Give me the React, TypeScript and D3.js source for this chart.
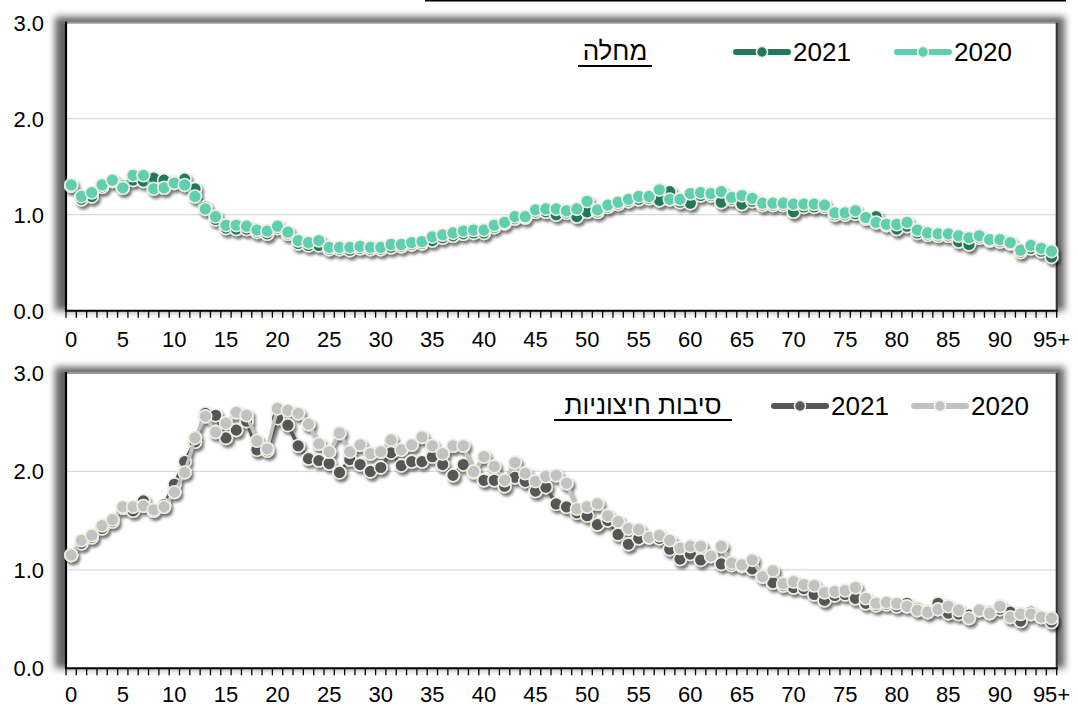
import React from 'react';
import * as d3 from 'd3';

// age categories 0..94 and 95+
const ages: string[] = d3.range(96).map((a) => (a === 95 ? '95+' : String(a)));
const yTicks = [0, 1, 2, 3];
const seriesNames = ['2021', '2020'];

// illness (מחלה)
const illness2021 = [
  1.30, 1.16, 1.19, 1.29, 1.35, 1.30, 1.36, 1.35, 1.38, 1.36,
  1.34, 1.37, 1.27, 1.08, 0.95, 0.86, 0.85, 0.85, 0.82, 0.80,
  0.86, 0.80, 0.70, 0.68, 0.68, 0.64, 0.64, 0.63, 0.65, 0.64,
  0.64, 0.66, 0.67, 0.69, 0.70, 0.73, 0.76, 0.78, 0.80, 0.81,
  0.81, 0.87, 0.91, 0.96, 0.97, 1.03, 1.03, 1.00, 1.02, 0.98,
  1.03, 1.03, 1.08, 1.11, 1.14, 1.16, 1.17, 1.15, 1.24, 1.13,
  1.12, 1.20, 1.20, 1.13, 1.16, 1.11, 1.14, 1.10, 1.10, 1.10,
  1.03, 1.08, 1.08, 1.08, 1.00, 1.00, 1.01, 0.96, 0.98, 0.89,
  0.85, 0.88, 0.81, 0.79, 0.78, 0.78, 0.72, 0.69, 0.76, 0.73,
  0.72, 0.70, 0.61, 0.65, 0.62, 0.56,
];
const illness2020 = [
  1.31, 1.19, 1.23, 1.31, 1.36, 1.28, 1.41, 1.41, 1.27, 1.28,
  1.33, 1.31, 1.19, 1.06, 0.98, 0.89, 0.89, 0.88, 0.84, 0.83,
  0.88, 0.82, 0.73, 0.71, 0.73, 0.66, 0.66, 0.66, 0.67, 0.66,
  0.66, 0.69, 0.69, 0.71, 0.72, 0.77, 0.79, 0.81, 0.83, 0.84,
  0.84, 0.89, 0.92, 0.98, 0.98, 1.05, 1.06, 1.06, 1.04, 1.06,
  1.14, 1.05, 1.10, 1.13, 1.16, 1.19, 1.19, 1.26, 1.16, 1.16,
  1.22, 1.23, 1.22, 1.24, 1.18, 1.20, 1.17, 1.12, 1.12, 1.12,
  1.11, 1.11, 1.11, 1.10, 1.02, 1.02, 1.04, 0.97, 0.92, 0.90,
  0.90, 0.92, 0.84, 0.81, 0.80, 0.80, 0.78, 0.76, 0.78, 0.74,
  0.74, 0.71, 0.63, 0.68, 0.65, 0.62,
];

// external causes (סיבות חיצוניות)
const external2021 = [
  1.15, 1.27, 1.33, 1.42, 1.49, 1.63, 1.60, 1.70, 1.60, 1.66,
  1.87, 2.10, 2.30, 2.59, 2.57, 2.34, 2.42, 2.51, 2.22, 2.21,
  2.54, 2.47, 2.26, 2.13, 2.11, 2.08, 1.99, 2.12, 2.07, 2.00,
  2.04, 2.19, 2.06, 2.10, 2.10, 2.15, 2.07, 1.96, 2.07, 1.99,
  1.91, 1.91, 1.85, 1.94, 1.90, 1.80, 1.84, 1.67, 1.64, 1.58,
  1.55, 1.46, 1.50, 1.36, 1.26, 1.32, 1.33, 1.32, 1.21, 1.11,
  1.16, 1.10, 1.14, 1.06, 1.05, 1.04, 1.01, 0.94, 0.87, 0.84,
  0.82, 0.81, 0.75, 0.69, 0.74, 0.75, 0.71, 0.66, 0.64, 0.65,
  0.63, 0.66, 0.61, 0.58, 0.66, 0.56, 0.55, 0.54, 0.59, 0.57,
  0.60, 0.57, 0.48, 0.57, 0.52, 0.47,
];
const external2020 = [
  1.15, 1.30, 1.35, 1.45, 1.51, 1.64, 1.64, 1.65, 1.61, 1.64,
  1.79, 1.99, 2.34, 2.56, 2.40, 2.49, 2.60, 2.57, 2.31, 2.23,
  2.64, 2.62, 2.59, 2.48, 2.28, 2.20, 2.39, 2.20, 2.27, 2.18,
  2.20, 2.32, 2.22, 2.27, 2.35, 2.26, 2.18, 2.26, 2.26, 2.00,
  2.15, 2.05, 1.91, 2.09, 1.98, 1.90, 1.95, 1.96, 1.88, 1.62,
  1.64, 1.67, 1.55, 1.49, 1.42, 1.41, 1.33, 1.35, 1.30, 1.22,
  1.24, 1.24, 1.14, 1.24, 1.07, 1.05, 1.10, 0.93, 0.99, 0.86,
  0.88, 0.85, 0.84, 0.77, 0.78, 0.79, 0.82, 0.71, 0.66, 0.67,
  0.66, 0.63, 0.59, 0.57, 0.60, 0.63, 0.59, 0.51, 0.59, 0.56,
  0.63, 0.52, 0.55, 0.55, 0.52, 0.51,
];

const FONT = 'Arial, "Liberation Sans", sans-serif';
const LEFT = 66;
const RIGHT = 1056.7;
const MARKER_EDGE = '#efefe3';

interface PanelProps {
  id: string;
  title: string;
  top: number;
  bottom: number;
  data: number[][]; // [2021, 2020]
  colors: string[];
  titleX: number;
  titleWidth: number;
  legendY: number;
  legendMarks: number[];
  labelOffset: number;
}

const Panel: React.FC<PanelProps> = ({ id, title, top, bottom, data, colors, titleX, titleWidth, legendY, legendMarks, labelOffset }) => {
  const x = d3.scaleBand<string>().domain(ages).range([LEFT, RIGHT]);
  const y = d3.scaleLinear().domain([0, 3]).range([bottom, top]);
  const cx = (i: number) => (x(ages[i]) as number) + x.bandwidth() / 2;
  const line = d3
    .line<number>()
    .x((_, i) => cx(i))
    .y((d) => y(d));
  const w = RIGHT - LEFT;
  const h = bottom - top;

  return (
    <g>
      <defs>
        <filter id={`frame-${id}`} x="-5%" y="-10%" width="110%" height="120%">
          <feGaussianBlur stdDeviation="3.5" />
        </filter>
        <filter id={`drop-${id}`} x="-5%" y="-10%" width="110%" height="130%">
          <feDropShadow dx="2" dy="3" stdDeviation="1.7" floodColor="#000" floodOpacity="0.55" />
        </filter>
      </defs>

      {/* frame shadow + plot area */}
      <rect x={LEFT - 11} y={top - 6} width={w + 19} height={h + 6} fill="#555" opacity={0.9} filter={`url(#frame-${id})`} />
      <rect x={LEFT} y={top} width={w} height={h} fill="#fff" />

      {/* gridlines */}
      {yTicks.slice(1, 3).map((t) => (
        <line key={t} x1={LEFT} x2={RIGHT} y1={y(t)} y2={y(t)} stroke="#d9d9d9" strokeWidth={1.3} />
      ))}

      {/* frame borders */}
      <line x1={LEFT} x2={RIGHT} y1={top} y2={top} stroke="#9a9a9a" strokeWidth={2} />
      <line x1={RIGHT} x2={RIGHT} y1={top} y2={bottom} stroke="#333" strokeWidth={2} />
      <line x1={LEFT} x2={LEFT} y1={top - 1} y2={bottom} stroke="#000" strokeWidth={2.2} />

      {/* y labels */}
      {yTicks.map((t) => (
        <text key={t} x={44} y={y(t)} dy="0.36em" textAnchor="end" fontSize={22} fontFamily={FONT} fill="#000">
          {t.toFixed(1)}
        </text>
      ))}

      {/* series: 2021 under 2020 */}
      <g filter={`url(#drop-${id})`}>
        {data.map((vals, si) => (
          <g key={si}>
            <path d={line(vals) as string} fill="none" stroke={colors[si]} strokeWidth={3.5} strokeLinejoin="round" />
            {vals.map((v, i) => (
              <circle key={i} cx={cx(i)} cy={y(v)} r={6.4} fill={colors[si]} stroke={MARKER_EDGE} strokeWidth={1.6} />
            ))}
          </g>
        ))}
      </g>

      {/* x axis */}
      <line x1={LEFT - 1} x2={RIGHT + 1} y1={bottom} y2={bottom} stroke="#000" strokeWidth={2} />
      {d3.range(ages.length + 1).map((k) => {
        const px = LEFT + k * x.step();
        return <line key={k} x1={px} x2={px} y1={bottom} y2={bottom + 7} stroke="#000" strokeWidth={1.3} />;
      })}
      {ages
        .filter((_, i) => i % 5 === 0)
        .map((a, j) => (
          <text key={a} x={cx(j * 5)} y={bottom + labelOffset} textAnchor="middle" fontSize={22} fontFamily={FONT} fill="#000">
            {a}
          </text>
        ))}

      {/* title + legend */}
      <text x={titleX} y={legendY - 1} textAnchor="middle" fontSize={26} fontFamily={FONT} fill="#000">
        {title}
      </text>
      <line x1={titleX - titleWidth / 2} x2={titleX + titleWidth / 2} y1={legendY + 5} y2={legendY + 5} stroke="#000" strokeWidth={2} />
      {seriesNames.map((name, si) => (
        <g key={name}>
          <line
            x1={legendMarks[si] - 26}
            x2={legendMarks[si] + 26}
            y1={legendY - 9}
            y2={legendY - 9}
            stroke={colors[si]}
            strokeWidth={6}
            strokeLinecap="round"
          />
          <circle cx={legendMarks[si]} cy={legendY - 9} r={5.5} fill={colors[si]} stroke={MARKER_EDGE} strokeWidth={1.5} />
          <text x={legendMarks[si] + 31} y={legendY} fontSize={26} fontFamily={FONT} fill="#000">
            {name}
          </text>
        </g>
      ))}
    </g>
  );
};

const App: React.FC = () => {
  return (
    <svg
      width={1078}
      height={706}
      viewBox="0 0 1078 706"
      style={{ position: 'absolute', left: 0, top: 0, background: '#fff' }}
    >
      <rect x={0} y={0} width={1078} height={706} fill="#fff" />
      <rect x={425} y={0} width={641} height={1.5} fill="#000" />
      <Panel
        id="ill"
        title="מחלה"
        top={22.7}
        bottom={310.7}
        data={[illness2021, illness2020]}
        colors={['#23775b', '#5ecfb0']}
        titleX={615}
        titleWidth={74}
        legendY={61}
        legendMarks={[762, 923]}
        labelOffset={36}
      />
      <Panel
        id="ext"
        title="סיבות חיצוניות"
        top={373}
        bottom={668.3}
        data={[external2021, external2020]}
        colors={['#575757', '#c2c2c2']}
        titleX={643}
        titleWidth={178}
        legendY={415}
        legendMarks={[800, 940]}
        labelOffset={33.5}
      />
    </svg>
  );
};

export default App;
